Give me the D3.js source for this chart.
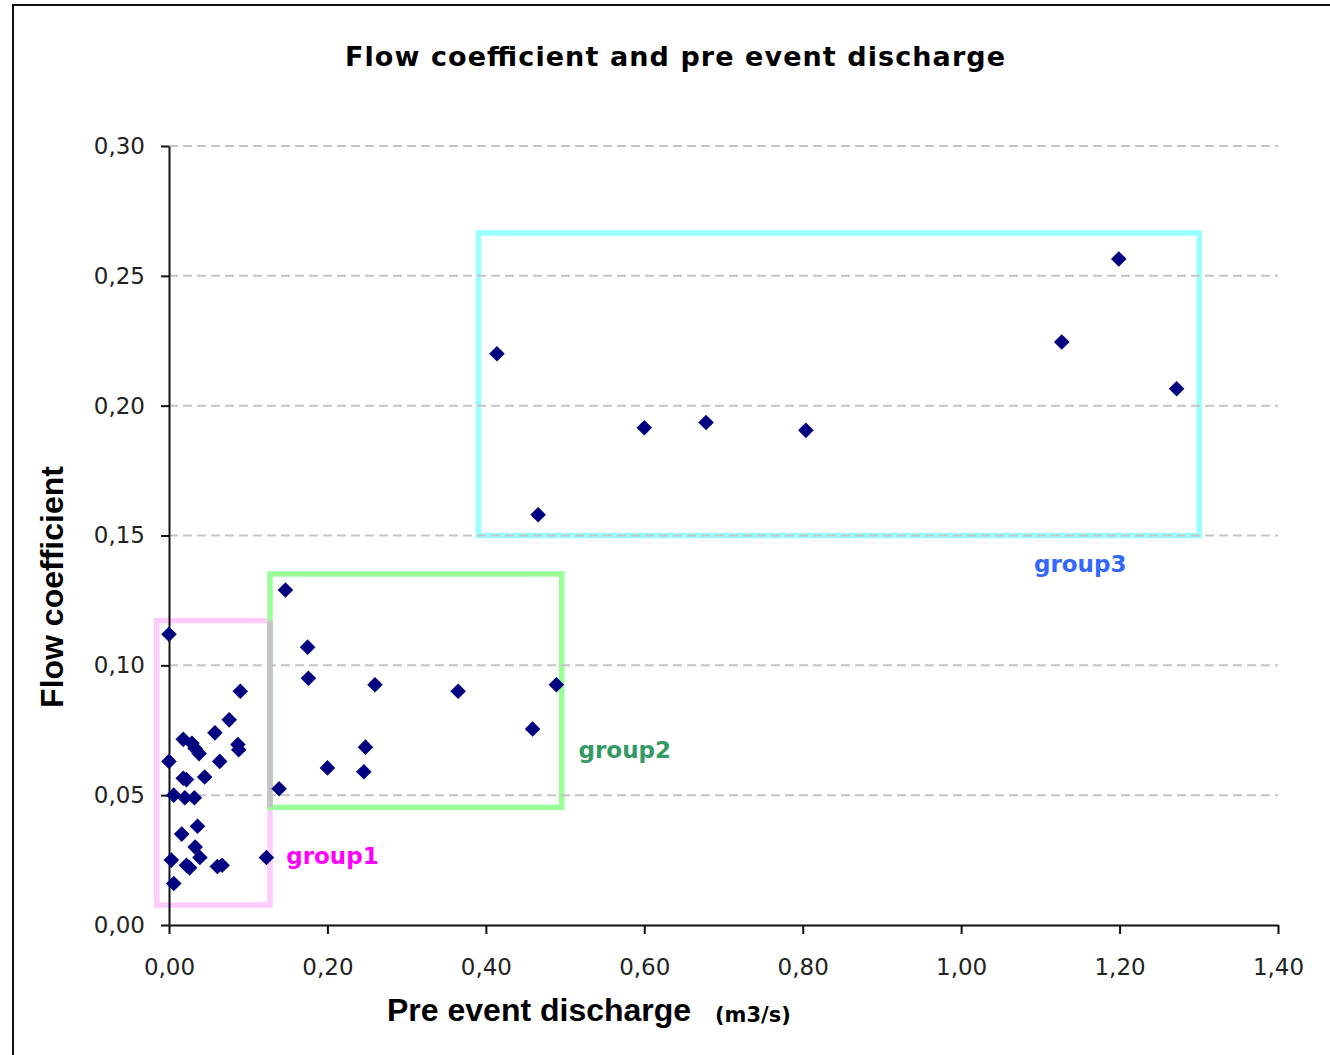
<!DOCTYPE html>
<html>
<head>
<meta charset="utf-8">
<script src="https://cdn.jsdelivr.net/npm/d3@7"></script>
<style>
  body { margin: 0; background: #fff; }
  svg { display: block; }
</style>
</head>
<body>
<div id="chart"></div>
<script>
// values
var xTicks = [0, 0.2, 0.4, 0.6, 0.8, 1.0, 1.2, 1.4];
var yTicks = [0, 0.05, 0.10, 0.15, 0.20, 0.25, 0.30];

var group1X = [0.000, 0.090, 0.076, 0.058, 0.018, 0.029, 0.033, 0.038, 0.087, 0.088, 0.000, 0.064, 0.045, 0.018, 0.022, 0.006, 0.020, 0.032, 0.016, 0.036, 0.033, 0.039, 0.003, 0.022, 0.026, 0.061, 0.067, 0.006, 0.123];
var group1Y = [0.112, 0.090, 0.079, 0.074, 0.0715, 0.070, 0.068, 0.066, 0.0695, 0.0675, 0.063, 0.063, 0.057, 0.0565, 0.056, 0.050, 0.049, 0.049, 0.035, 0.038, 0.030, 0.026, 0.025, 0.023, 0.022, 0.0225, 0.023, 0.016, 0.026];

var group2X = [0.147, 0.175, 0.176, 0.260, 0.365, 0.489, 0.459, 0.248, 0.200, 0.246, 0.139];
var group2Y = [0.129, 0.107, 0.095, 0.0925, 0.090, 0.0925, 0.0755, 0.0685, 0.0605, 0.059, 0.0525];

var group3X = [0.414, 0.466, 0.600, 0.678, 0.804, 1.127, 1.199, 1.272];
var group3Y = [0.220, 0.158, 0.1915, 0.1935, 0.1905, 0.2245, 0.2565, 0.2065];

// group boxes, in data units
var groupNames = ["group1", "group2", "group3"];
var boxX0 = [-0.0155, 0.1275, 0.3905];
var boxX1 = [0.1275, 0.4958, 1.3005];
var boxY0 = [0.0077, 0.0453, 0.150];
var boxY1 = [0.1172, 0.1352, 0.2665];

var boxColors = ["#ffccff", "#99ff99", "#99ffff"];
var labelColors = ["#ff00ff", "#339966", "#3366ff"];

var W = 1330, H = 1055;

var svg = d3.select("#chart")
  .append("svg")
    .attr("width", W)
    .attr("height", H);

// outer chart frame (right and bottom edges run off the picture)
svg.append("rect")
  .attr("x", 13).attr("y", 5)
  .attr("width", W + 20).attr("height", H + 20)
  .attr("fill", "#fff")
  .attr("stroke", "#111")
  .attr("stroke-width", 2);

var x = d3.scaleLinear().domain([0, 1.4]).range([169, 1278]);
var y = d3.scaleLinear().domain([0, 0.3]).range([925, 146]);

var fmt = function (d) { return d3.format(".2f")(d).replace(".", ","); };

// boxes
svg.append("g")
  .selectAll("rect")
  .data(groupNames)
  .enter()
  .append("rect")
    .attr("x", function (d, i) { return x(boxX0[i]); })
    .attr("y", function (d, i) { return y(boxY1[i]); })
    .attr("width", function (d, i) { return x(boxX1[i]) - x(boxX0[i]); })
    .attr("height", function (d, i) { return y(boxY0[i]) - y(boxY1[i]); })
    .attr("fill", "none")
    .attr("stroke", function (d, i) { return boxColors[i]; })
    .attr("stroke-width", 5.5);

// where the pink and green edges overlap they show grey
svg.append("line")
  .attr("x1", x(boxX1[0])).attr("x2", x(boxX0[1]))
  .attr("y1", y(Math.min(boxY1[0], boxY1[1])))
  .attr("y2", y(Math.max(boxY0[0], boxY0[1])))
  .attr("stroke", "#c4c4c4")
  .attr("stroke-width", 5.5);

// dashed grid
svg.append("g")
  .selectAll("line")
  .data(yTicks.filter(function (d) { return d > 0; }))
  .enter()
  .append("line")
    .attr("x1", x(0)).attr("x2", x(1.4))
    .attr("y1", function (d) { return y(d); })
    .attr("y2", function (d) { return y(d); })
    .attr("stroke", "#c4c4c4")
    .attr("stroke-width", 2)
    .attr("stroke-dasharray", "9,5");

// axes
var xAxis = svg.append("g")
  .attr("transform", "translate(0," + y(0) + ")")
  .call(d3.axisBottom(x).tickValues(xTicks).tickFormat(fmt)
    .tickSize(9).tickSizeOuter(0).tickPadding(25));

var yAxis = svg.append("g")
  .attr("transform", "translate(" + x(0) + ",0)")
  .call(d3.axisLeft(y).tickValues(yTicks).tickFormat(fmt)
    .tickSize(8).tickSizeOuter(0).tickPadding(16));

[xAxis, yAxis].forEach(function (g) {
  g.select(".domain").attr("stroke", "#111").attr("stroke-width", 2);
  g.selectAll(".tick line").attr("stroke", "#111").attr("stroke-width", 2);
  g.selectAll(".tick text")
    .attr("fill", "#222")
    .style("font-family", "'DejaVu Sans', sans-serif")
    .style("font-size", "23px");
});

// dots
var diamond = d3.symbol().type(d3.symbolDiamond2).size(155);
var allPoints = [];
[[group1X, group1Y], [group2X, group2Y], [group3X, group3Y]].forEach(function (g) {
  g[0].forEach(function (v, i) { allPoints.push({xPos: v, yPos: g[1][i]}); });
});

svg.append("g")
  .selectAll("path")
  .data(allPoints)
  .enter()
  .append("path")
    .attr("d", diamond)
    .attr("transform", function (d) { return "translate(" + x(d.xPos) + "," + y(d.yPos) + ")"; })
    .attr("fill", "#000080");

// group labels
var labelX = [0.148, 0.517, 1.092];
var labelY = [0.0235, 0.0645, 0.136];
svg.append("g")
  .selectAll("text")
  .data(groupNames)
  .enter()
  .append("text")
    .attr("x", function (d, i) { return x(labelX[i]); })
    .attr("y", function (d, i) { return y(labelY[i]); })
    .attr("fill", function (d, i) { return labelColors[i]; })
    .style("font-family", "'DejaVu Sans', sans-serif")
    .style("font-weight", "bold")
    .style("font-size", "23px")
    .text(function (d) { return d; });

// title
svg.append("text")
  .attr("x", 675).attr("y", 66)
  .attr("text-anchor", "middle")
  .attr("textLength", 660)
  .attr("lengthAdjust", "spacing")
  .style("font-family", "'DejaVu Sans', sans-serif")
  .style("font-weight", "bold")
  .style("font-size", "27px")
  .text("Flow coefficient and pre event discharge");

// axis titles
svg.append("text")
  .attr("x", 387).attr("y", 1021)
  .style("font-family", "'Liberation Sans', Arial, sans-serif")
  .style("font-weight", "bold")
  .style("font-size", "32px")
  .text("Pre event discharge");

svg.append("text")
  .attr("x", 715).attr("y", 1022)
  .style("font-family", "'DejaVu Sans', sans-serif")
  .style("font-weight", "bold")
  .style("font-size", "21px")
  .text("(m3/s)");

svg.append("text")
  .attr("transform", "translate(63,587) rotate(-90)")
  .attr("text-anchor", "middle")
  .style("font-family", "'Liberation Sans', Arial, sans-serif")
  .style("font-weight", "bold")
  .style("font-size", "32px")
  .text("Flow coefficient");
</script>
</body>
</html>
